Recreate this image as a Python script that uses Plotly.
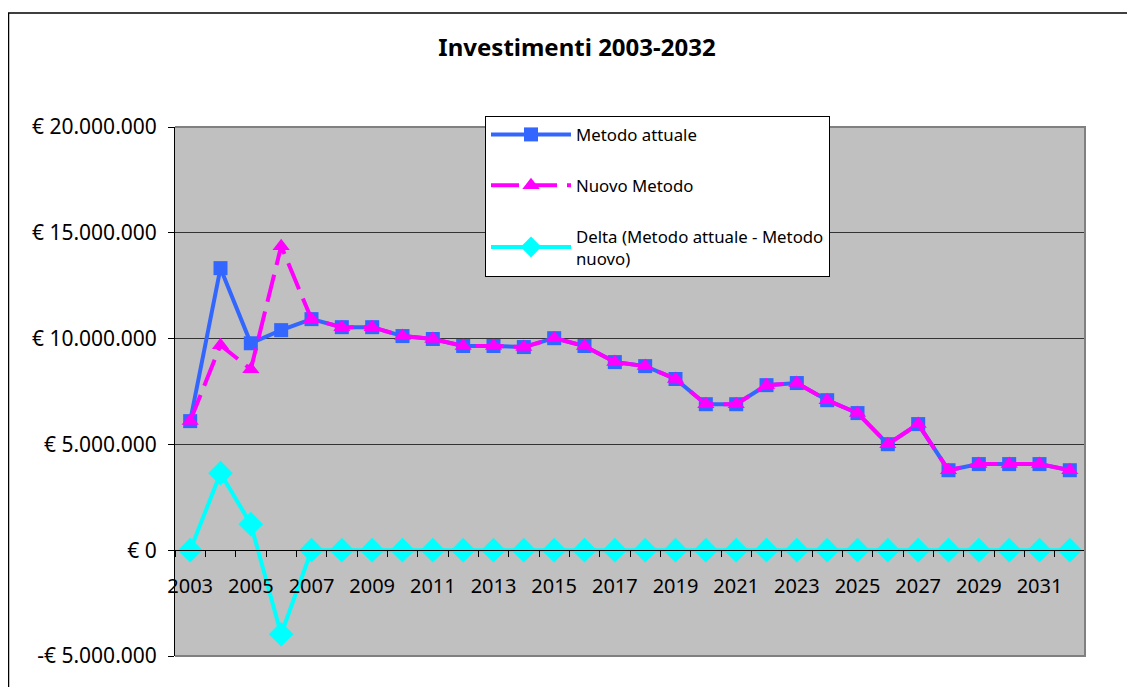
import plotly.graph_objects as go

years = list(range(2003, 2033))

metodo_attuale = [6.10e6, 13.33e6, 9.78e6, 10.40e6, 10.92e6, 10.54e6, 10.54e6, 10.12e6, 9.98e6, 9.65e6,
                  9.65e6, 9.60e6, 10.02e6, 9.65e6, 8.89e6, 8.70e6, 8.09e6, 6.90e6, 6.90e6, 7.80e6,
                  7.90e6, 7.09e6, 6.48e6, 5.01e6, 5.96e6, 3.78e6, 4.07e6, 4.07e6, 4.07e6, 3.78e6]

nuovo_metodo = [6.10e6, 9.69e6, 8.55e6, 14.37e6, 10.92e6, 10.54e6, 10.54e6, 10.12e6, 9.98e6, 9.65e6,
                9.65e6, 9.60e6, 10.02e6, 9.65e6, 8.89e6, 8.70e6, 8.09e6, 6.90e6, 6.90e6, 7.80e6,
                7.90e6, 7.09e6, 6.48e6, 5.01e6, 5.96e6, 3.78e6, 4.07e6, 4.07e6, 4.07e6, 3.78e6]

delta = [0, 3.64e6, 1.23e6, -3.97e6, 0, 0, 0, 0, 0, 0,
         0, 0, 0, 0, 0, 0, 0, 0, 0, 0,
         0, 0, 0, 0, 0, 0, 0, 0, 0, 0]

x_tick_vals = list(range(2003, 2032, 2))
x_tick_text = [str(v) for v in x_tick_vals]

y_tick_vals = [-5e6, 0, 5e6, 10e6, 15e6, 20e6]
y_tick_text = ["-€ 5.000.000", "€ 0", "€ 5.000.000", "€ 10.000.000", "€ 15.000.000", "€ 20.000.000"]

series_names = ["Metodo attuale", "Nuovo Metodo", "Delta (Metodo attuale - Metodo<br>nuovo)"]

FONT = "Noto Sans"

# page body has an 8px margin; figure coordinates are shifted accordingly
L, T = 167, 119          # plot area left / top inside the figure
PW, PH = 910, 529        # plot area width / height
W, H = 1135, 687

fig = go.Figure()
fig.add_trace(go.Scatter(x=years, y=metodo_attuale, name=series_names[0], mode="lines+markers",
                         line=dict(color="#3366FF", width=4),
                         marker=dict(symbol="square", size=14, color="#3366FF"),
                         legendgroup="a"))
fig.add_trace(go.Scatter(x=years, y=nuovo_metodo, name=series_names[1], mode="lines+markers",
                         line=dict(color="#FF00FF", width=4, dash="28px,10px"),
                         marker=dict(symbol="triangle-up", size=15, color="#FF00FF"),
                         legendgroup="b"))
fig.add_trace(go.Scatter(x=years, y=delta, name=series_names[2], mode="lines+markers",
                         line=dict(color="#00FFFF", width=4),
                         marker=dict(symbol="diamond", size=19, color="#00FFFF"),
                         legendgroup="c"))

fig.update_layout(
    width=W, height=H,
    margin=dict(l=L, r=W - L - PW, t=T, b=H - T - PH),
    paper_bgcolor="white",
    plot_bgcolor="#C0C0C0",
    font=dict(family=FONT, color="black", size=19),
    title=dict(text="<b>Investimenti 2003-2032</b>", x=(569 - 0) / W, xanchor="center",
               y=1 - 40 / H, yanchor="middle", font=dict(family=FONT, size=24, color="black")),
    showlegend=True,
    legend=dict(x=(477 - L) / PW, y=(T + PH - 108) / PH, xanchor="left", yanchor="top",
                bgcolor="white", bordercolor="black", borderwidth=1,
                font=dict(family=FONT, size=16.8, color="black"),
                traceorder="grouped", tracegroupgap=26, itemwidth=80),
    xaxis=dict(range=[2002.5, 2032.5], tickvals=x_tick_vals, ticktext=x_tick_text,
               ticks="", showgrid=False, zeroline=False,
               showline=True, linecolor="black", linewidth=1,
               anchor="free", position=0.2, ticklabelstandoff=18,
               minor=dict(tick0=2002.5, dtick=1, ticks="outside", ticklen=6,
                          tickcolor="black", showgrid=False),
               tickfont=dict(size=20)),
    yaxis=dict(range=[-5e6, 20e6], tickvals=y_tick_vals, ticktext=y_tick_text,
               ticks="outside", ticklen=6, tickcolor="black", ticklabelstandoff=7,
               showgrid=True, gridcolor="#333333", gridwidth=1, zeroline=False,
               showline=True, linecolor="black", linewidth=1,
               tickfont=dict(size=21)),
    shapes=[
        dict(type="path", xref="paper", yref="paper", path="M 0,1 L 1,1 L 1,0 L 0,0",
             line=dict(color="#808080", width=2), layer="above"),
        dict(type="rect", xref="paper", yref="paper",
             x0=(0.5 - L) / PW, x1=1.2, y0=-0.2, y1=(T + PH - 5) / PH,
             line=dict(color="black", width=1.5), fillcolor="rgba(0,0,0,0)", layer="above"),
    ],
)

fig.write_html("out.html")
